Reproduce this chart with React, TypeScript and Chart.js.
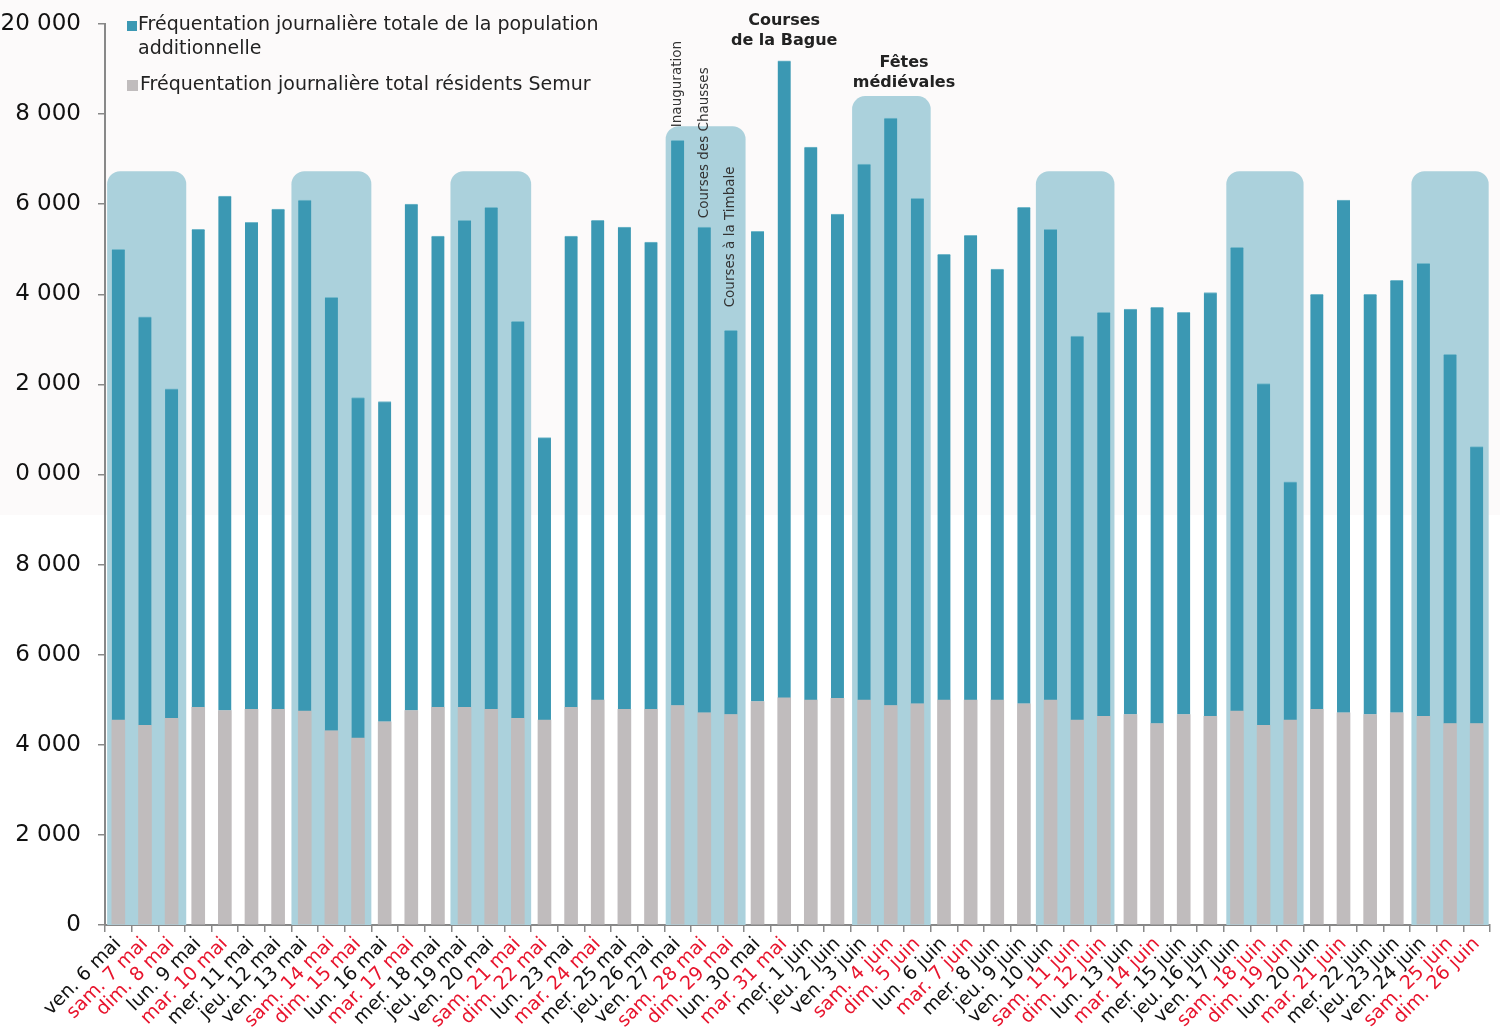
import React, { useEffect, useRef } from "react";
import { Chart, registerables } from "chart.js";

Chart.register(...registerables);

const categories = [
  "ven. 6 mai", "sam. 7 mai", "dim. 8 mai", "lun. 9 mai", "mar. 10 mai", "mer. 11 mai", "jeu. 12 mai",
  "ven. 13 mai", "sam. 14 mai", "dim. 15 mai", "lun. 16 mai", "mar. 17 mai", "mer. 18 mai", "jeu. 19 mai",
  "ven. 20 mai", "sam. 21 mai", "dim. 22 mai", "lun. 23 mai", "mar. 24 mai", "mer. 25 mai", "jeu. 26 mai",
  "ven. 27 mai", "sam. 28 mai", "dim. 29 mai", "lun. 30 mai", "mar. 31 mai", "mer. 1 juin", "jeu. 2 juin",
  "ven. 3 juin", "sam. 4 juin", "dim. 5 juin", "lun. 6 juin", "mar. 7 juin", "mer. 8 juin", "jeu. 9 juin",
  "ven. 10 juin", "sam. 11 juin", "dim. 12 juin", "lun. 13 juin", "mar. 14 juin", "mer. 15 juin", "jeu. 16 juin",
  "ven. 17 juin", "sam. 18 juin", "dim. 19 juin", "lun. 20 juin", "mar. 21 juin", "mer. 22 juin", "jeu. 23 juin",
  "ven. 24 juin", "sam. 25 juin", "dim. 26 juin",
];

const residents = [
  4550, 4430, 4590, 4830, 4760, 4790, 4790, 4750, 4310, 4150, 4510, 4760, 4830, 4830, 4790, 4590, 4550,
  4830, 4990, 4790, 4790, 4870, 4710, 4670, 4960, 5040, 4990, 5030, 4990, 4870, 4910, 4990, 4990, 4990,
  4910, 4990, 4550, 4630, 4670, 4470, 4670, 4630, 4750, 4430, 4550, 4790, 4710, 4670, 4710, 4630, 4470, 4470,
];

const additional = [
  10450, 9070, 7310, 10610, 11420, 10810, 11100, 11340, 9620, 7560, 7110, 11240, 10460, 10810, 11140,
  8810, 6270, 10460, 10650, 10700, 10370, 12550, 10780, 8530, 10440, 14140, 12280, 10750, 11900, 13040,
  11220, 9900, 10320, 9570, 11020, 10450, 8520, 8970, 9000, 9240, 8930, 9410, 10290, 7590, 5290, 9210,
  11380, 9330, 9600, 10060, 8200, 6150,
];

const yTickValues = [0, 2000, 4000, 6000, 8000, 10000, 12000, 14000, 16000, 18000, 20000];
const yTickLabels = ["0", "2 000", "4 000", "6 000", "8 000", "0 000", "2 000", "4 000", "6 000", "8 000", "20 000"];

const seriesNames = [
  ["Fréquentation journalière totale de la population", "additionnelle"],
  ["Fréquentation journalière total résidents Semur"],
];

// highlighted periods: [first category edge, last category edge, top value]
const periodFrom = [0.08, 7, 12.97, 21.05, 28.05, 34.95, 42.1, 49.05];
const periodTo = [3.05, 10, 16, 24.05, 31, 37.9, 45, 51.95];
const periodTop = [16730, 16730, 16730, 17730, 18400, 16730, 16730, 16730];

const verticalNotes = ["Inauguration", "Courses des Chausses", "Courses à la Timbale"];
const verticalNoteCats = [21, 22, 23];
const verticalNoteBase = [17710, 15690, 13710];

const boldNotes = [["Courses", "de la Bague"], ["Fêtes", "médiévales"]];
const boldNoteCats = [25, 29.5];
const boldNoteTop = [20080, 19130];

const BLUE = "#3b98b3";
const GREY = "#c0bcbd";
const BOX = "#abd1dc";
const RED = "#e8142d";
const FONT = "'DejaVu Sans', sans-serif";

const isRed = (label: string) => /^(sam|dim|mar)\./.test(label);

const decorPlugin = {
  id: "decor",
  beforeDraw(chart: any) {
    const ctx = chart.ctx;
    ctx.save();
    ctx.fillStyle = "#ffffff";
    ctx.fillRect(0, 0, chart.width, chart.height);
    ctx.fillStyle = "#fcfafa";
    ctx.fillRect(0, 0, chart.width, 515);
    ctx.restore();
  },
  beforeDatasetsDraw(chart: any) {
    const ctx = chart.ctx;
    const xs = chart.scales.x;
    const ys = chart.scales.y;
    const catW = xs.getPixelForValue(1) - xs.getPixelForValue(0);
    const edge = (u: number) => xs.getPixelForValue(0) + (u - 0.5) * catW;
    ctx.save();
    ctx.fillStyle = BOX;
    for (let i = 0; i < periodFrom.length; i++) {
      const x0 = edge(periodFrom[i]);
      const x1 = edge(periodTo[i]);
      const y0 = ys.getPixelForValue(periodTop[i]);
      const y1 = ys.getPixelForValue(0);
      ctx.beginPath();
      (ctx as any).roundRect(x0, y0, x1 - x0, y1 - y0, [13, 13, 0, 0]);
      ctx.fill();
    }
    ctx.restore();
  },
  afterDraw(chart: any) {
    const ctx = chart.ctx;
    const xs = chart.scales.x;
    const ys = chart.scales.y;
    const catW = xs.getPixelForValue(1) - xs.getPixelForValue(0);
    const center = (u: number) => xs.getPixelForValue(0) + u * catW;
    ctx.save();
    // legend
    const colors = [BLUE, GREY];
    const sq = [
      { x: 127, y: 21, s: 10 },
      { x: 127, y: 80, s: 11 },
    ];
    const tx = [138, 140];
    const ty = [25, 85];
    ctx.font = `19px ${FONT}`;
    ctx.textBaseline = "middle";
    ctx.textAlign = "left";
    for (let i = 0; i < seriesNames.length; i++) {
      ctx.fillStyle = colors[i];
      ctx.fillRect(sq[i].x, sq[i].y, sq[i].s, sq[i].s);
      ctx.fillStyle = "#222222";
      seriesNames[i].forEach((line, j) => ctx.fillText(line, tx[i], ty[i] + j * 24));
    }
    // vertical notes
    ctx.font = `13.5px ${FONT}`;
    ctx.fillStyle = "#333333";
    for (let i = 0; i < verticalNotes.length; i++) {
      ctx.save();
      ctx.translate(center(verticalNoteCats[i]), ys.getPixelForValue(verticalNoteBase[i]));
      ctx.rotate(-Math.PI / 2);
      ctx.textAlign = "left";
      ctx.textBaseline = "middle";
      ctx.fillText(verticalNotes[i], 0, 0);
      ctx.restore();
    }
    // bold notes
    ctx.font = `bold 16px ${FONT}`;
    ctx.fillStyle = "#222222";
    ctx.textAlign = "center";
    ctx.textBaseline = "middle";
    for (let i = 0; i < boldNotes.length; i++) {
      const y = ys.getPixelForValue(boldNoteTop[i]);
      boldNotes[i].forEach((line, j) => ctx.fillText(line, center(boldNoteCats[i]), y + j * 20));
    }
    ctx.restore();
  },
};

export default function App() {
  const ref = useRef<HTMLCanvasElement | null>(null);
  useEffect(() => {
    document.body.style.margin = "0";
    const canvas = ref.current;
    if (!canvas) return;
    const chart = new Chart(canvas, {
      type: "bar",
      data: {
        labels: categories,
        datasets: [
          {
            label: seriesNames[1].join(" "),
            data: residents,
            backgroundColor: GREY,
            borderWidth: 0,
            barThickness: 13,
            stack: "s",
          },
          {
            label: seriesNames[0].join(" "),
            data: additional,
            backgroundColor: BLUE,
            borderColor: "#74b8ca",
            borderWidth: { top: 1, left: 0, right: 0, bottom: 0 },
            borderSkipped: "bottom",
            barThickness: 13,
            stack: "s",
          },
        ],
      },
      options: {
        animation: false,
        responsive: false,
        maintainAspectRatio: false,
        layout: { padding: { top: 24, right: 10, left: 0, bottom: 0 } },
        plugins: { legend: { display: false }, tooltip: { enabled: false } },
        scales: {
          x: {
            stacked: true,
            afterFit: (s: any) => {
              s.height = 109;
              s.paddingLeft = 0;
              s.paddingRight = 0;
              s.paddingTop = 0;
              s.paddingBottom = 0;
            },
            grid: {
              display: true,
              drawOnChartArea: false,
              drawTicks: true,
              tickLength: 7,
              color: "#888888",
              lineWidth: 1.5,
              offset: true,
            },
            border: { display: true, color: "#888888", width: 2 },
            ticks: {
              autoSkip: false,
              minRotation: 45,
              maxRotation: 45,
              padding: 1,
              font: { family: FONT, size: 19 },
              color: (c: any) => (isRed(categories[c.index]) ? RED : "#111111"),
            },
          },
          y: {
            stacked: true,
            min: 0,
            max: 20000,
            afterFit: (s: any) => {
              s.width = 105;
              s.paddingTop = 0;
              s.paddingBottom = 0;
              s.paddingLeft = 0;
              s.paddingRight = 0;
            },
            afterBuildTicks: (s: any) => {
              s.ticks = yTickValues.map((v) => ({ value: v }));
            },
            grid: {
              display: true,
              drawOnChartArea: false,
              drawTicks: true,
              tickLength: 7,
              color: "#888888",
              lineWidth: 1.5,
            },
            border: { display: true, color: "#888888", width: 2 },
            ticks: {
              padding: 17,
              font: { family: FONT, size: 23 },
              color: "#111111",
              callback: (v: any) => {
                const i = yTickValues.indexOf(Number(v));
                return i >= 0 ? yTickLabels[i] : "";
              },
            },
          },
        },
      },
      plugins: [decorPlugin],
    });
    return () => chart.destroy();
  }, []);
  return (
    <div style={{ width: 1500, height: 1034, position: "relative" }}>
      <canvas ref={ref} width={1500} height={1034} style={{ display: "block", width: 1500, height: 1034 }} />
    </div>
  );
}
